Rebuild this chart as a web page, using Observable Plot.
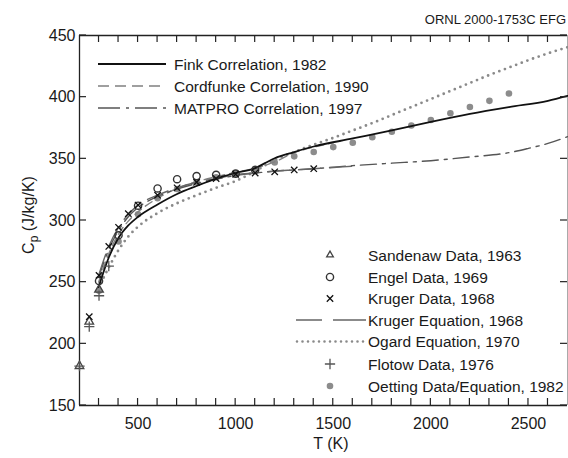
<!DOCTYPE html>
<html><head><meta charset="utf-8">
<script src="https://cdn.jsdelivr.net/npm/d3@7"></script>
<script src="https://cdn.jsdelivr.net/npm/@observablehq/plot@0.6"></script>
<style>
html,body{margin:0;padding:0;background:#fff;}
#chart{width:568px;height:458px;}
</style></head><body><div id="chart"></div>
<script>
// ---- data ----
const finkT  = [298, 350, 400, 450, 500, 600, 700, 800, 900, 1000, 1100, 1150, 1200, 1300, 1400, 1600, 1800, 2000, 2200, 2400, 2600, 2700];
const finkCp = [246, 270, 286, 296, 303, 313, 321.5, 328, 334, 338.5, 342.5, 346.5, 350.5, 355.5, 360, 366.5, 373, 380, 386.5, 392, 397, 401];

const cordT  = [298, 350, 400, 450, 500, 600, 700, 800, 900, 1000, 1100, 1200, 1300, 1400, 1500];
const cordCp = [250, 273, 289, 299.5, 307, 318, 326, 331.5, 335.5, 339, 342.5, 347.5, 355, 359.5, 363];

const matproT  = [298, 350, 400, 450, 500, 600, 700, 800, 900, 1000, 1100, 1200, 1300, 1400, 1600, 1800, 2000, 2200, 2400, 2500, 2600, 2700];
const matproCp = [254, 276.5, 292, 303, 310.5, 319.5, 325.5, 330, 333.5, 336.5, 338.5, 340, 341, 342, 344.5, 346.5, 348.5, 351.5, 355, 358.5, 362.5, 368];

const krugerEqT  = [298, 350, 400, 450, 500, 600, 700, 800, 900, 1000, 1100, 1200, 1300, 1400, 1500, 1600];
const krugerEqCp = [255.5, 279, 294.5, 305, 312.5, 320.5, 326.5, 331, 334, 337, 338.5, 340, 341, 342, 343, 344];

const ogardT  = [298, 350, 400, 450, 500, 600, 700, 800, 900, 1000, 1100, 1200, 1300, 1400, 1500, 1600, 1700, 1800, 1900, 2000, 2100, 2200, 2300, 2400, 2500, 2600, 2700];
const ogardCp = [245, 262, 276, 287, 295, 306, 314, 320.5, 326.5, 332, 340, 349, 355.5, 361.5, 367, 373, 379, 385.5, 392, 398.5, 405, 411.5, 418, 424, 430, 435.5, 440.5];

const sandenawT  = [200, 250, 300];
const sandenawCp = [182, 218, 244];

const engelT  = [300, 400, 500, 600, 700, 800, 900, 1000, 1100];
const engelCp = [251, 288, 312, 326, 333.5, 336, 337, 338, 341];

const krugerT  = [250, 300, 350, 400, 450, 500, 600, 700, 800, 900, 1000, 1100, 1200, 1300, 1400];
const krugerCp = [222, 255.5, 279, 294.5, 305.5, 312.5, 320.5, 326.5, 331, 334, 337.5, 338.5, 339.5, 341, 342];

const flotowT  = [200, 250, 300, 350];
const flotowCp = [182, 214, 239, 263];

const oettingT  = [300, 400, 500, 600, 700, 800, 900, 1000, 1100, 1200, 1300, 1400, 1500, 1600, 1700, 1800, 1900, 2000, 2100, 2200, 2300, 2400];
const oettingCp = [243, 283, 305, 318, 325.5, 331, 335, 338, 342, 347, 352, 355.5, 359.5, 363, 367.5, 372, 377, 381.5, 387, 392, 397, 403];

const xLabelTicks = [500, 1000, 1500, 2000, 2500];
const xMinorTicks = d3.range(300, 2700, 100);
const yTicks = [150, 200, 250, 300, 350, 400, 450];

const topLegend = ["Fink Correlation, 1982", "Cordfunke Correlation, 1990", "MATPRO Correlation, 1997"];
const bottomLegend = ["Sandenaw Data, 1963", "Engel Data, 1969", "Kruger Data, 1968", "Kruger Equation, 1968", "Ogard Equation, 1970", "Flotow Data, 1976", "Oetting Data/Equation, 1982"];
const noteText = "ORNL 2000-1753C EFG";
const xTitle = "T (K)";

// ---- helpers ----
const pts = (T, C) => T.map((t, i) => ({T: t, Cp: C[i]}));
const FONT = "'Liberation Sans', Arial, Helvetica, sans-serif";

const st = {
  fink:   {stroke: "#111", strokeWidth: 1.8},
  cord:   {stroke: "#808080", strokeWidth: 1.4, strokeDasharray: "8,5"},
  matpro: {stroke: "#555", strokeWidth: 1.4, strokeDasharray: "16,6,3,6"},
  krEq:   {stroke: "#666", strokeWidth: 1.4, strokeDasharray: "22,9"},
  ogard:  {stroke: "#8a8a8a", strokeWidth: 2.8, strokeDasharray: "0,6", strokeLinecap: "round"}
};

const plot = Plot.plot({
  width: 568, height: 458,
  marginLeft: 79, marginRight: 1, marginTop: 35, marginBottom: 53,
  x: {domain: [200, 2700]},
  y: {domain: [150, 450]},
  style: {fontFamily: FONT, background: "white", color: "#1a1a1a", overflow: "visible"},
  marks: [
    // frame
    Plot.ruleX([200], {stroke: "#222", strokeWidth: 1.3}),
    Plot.ruleX([2700], {stroke: "#aaa", strokeWidth: 1}),
    Plot.ruleY([150, 450], {stroke: "#222", strokeWidth: 1.3}),
    // axes: labels
    Plot.axisY(yTicks, {anchor: "left", tickSize: 0, tickPadding: 4, fontSize: 16, label: null, tickFormat: d => String(d)}),
    Plot.axisX(xLabelTicks, {anchor: "bottom", tickSize: 0, tickPadding: 12, fontSize: 16, label: null, tickFormat: d => String(d)}),
    // Oetting filled dots
    Plot.dot(pts(oettingT, oettingCp), {x: "T", y: "Cp", r: 3.3, fill: "#8c8c8c", stroke: "none"}),
    // curves
    Plot.line(pts(ogardT, ogardCp), {x: "T", y: "Cp", curve: "monotone-x", ...st.ogard}),
    Plot.line(pts(cordT, cordCp), {x: "T", y: "Cp", curve: "monotone-x", ...st.cord}),
    Plot.line(pts(matproT, matproCp), {x: "T", y: "Cp", curve: "monotone-x", ...st.matpro}),
    Plot.line(pts(krugerEqT, krugerEqCp), {x: "T", y: "Cp", curve: "monotone-x", ...st.krEq}),
    Plot.line(pts(finkT, finkCp), {x: "T", y: "Cp", curve: "monotone-x", ...st.fink}),
    // data markers
    Plot.dot(pts(sandenawT, sandenawCp), {x: "T", y: "Cp", symbol: "triangle", r: 3.2, stroke: "#444", strokeWidth: 1.3, fill: "none"}),
    Plot.dot(pts(flotowT, flotowCp), {x: "T", y: "Cp", symbol: "plus", r: 3.4, stroke: "#555", strokeWidth: 1.3}),
    Plot.dot(pts(engelT, engelCp), {x: "T", y: "Cp", symbol: "circle", r: 3.6, stroke: "#333", strokeWidth: 1.4, fill: "none"}),
    Plot.dot(pts(krugerT, krugerCp), {x: "T", y: "Cp", symbol: "times", r: 3, stroke: "#111", strokeWidth: 1.3})
  ]
});
document.getElementById("chart").appendChild(plot);

// ---- inward ticks via the plot's own scales ----
const xs = plot.scale("x"), ys = plot.scale("y");
const svg = d3.select(plot);
const tk = svg.append("g").attr("stroke", "#222").attr("stroke-width", 1.2);
const L = 7;
const xL = xs.apply(200), xR = xs.apply(2700), yB = ys.apply(150), yT = ys.apply(450);
xMinorTicks.forEach(v => {
  const px = xs.apply(v);
  tk.append("line").attr("x1", px).attr("x2", px).attr("y1", yB).attr("y2", yB - L);
  tk.append("line").attr("x1", px).attr("x2", px).attr("y1", yT).attr("y2", yT + L);
});
yTicks.forEach(v => {
  const py = ys.apply(v);
  tk.append("line").attr("x1", xL).attr("x2", xL + L).attr("y1", py).attr("y2", py);
  tk.append("line").attr("x1", xR).attr("x2", xR - L).attr("y1", py).attr("y2", py);
});

// ---- annotations & legends ----
const g = svg.append("g").attr("font-family", FONT).attr("fill", "#1a1a1a").attr("text-anchor", "start");

g.append("text").attr("x", 566).attr("y", 24).attr("text-anchor", "end")
  .attr("font-size", 13).text(noteText);

g.append("text").attr("x", 331).attr("y", 449).attr("text-anchor", "middle")
  .attr("font-size", 16).text(xTitle);

const yl = g.append("text").attr("transform", "translate(34,215) rotate(-90)")
  .attr("text-anchor", "middle").attr("font-size", 16);
yl.append("tspan").text("C");
yl.append("tspan").attr("font-size", 12).attr("dy", 4).text("p");
yl.append("tspan").attr("dy", -4).text(" (J/kg/K)");

// top-left legend
const topStyles = [st.fink, st.cord, st.matpro];
const topY = [64, 86, 108];
topLegend.forEach((lab, i) => {
  const s = topStyles[i];
  g.append("line").attr("x1", 98).attr("x2", 166).attr("y1", topY[i]).attr("y2", topY[i])
    .attr("stroke", s.stroke).attr("stroke-width", s.strokeWidth)
    .attr("stroke-dasharray", i === 1 ? "11,6" : i === 2 ? "22,6,3,6" : null);
  g.append("text").attr("x", 174).attr("y", topY[i]).attr("dy", "0.36em")
    .attr("font-size", 15.5).text(lab);
});

// bottom-right legend
const botY = [255, 277, 298.5, 320, 341.5, 364, 386];
const sym = (type, r) => d3.symbol(type, Math.PI * r * r)();
bottomLegend.forEach((lab, i) => {
  const y = botY[i];
  if (i === 0) g.append("path").attr("d", sym(d3.symbolTriangle2, 3.2)).attr("transform", `translate(330,${y})`).attr("fill", "none").attr("stroke", "#444").attr("stroke-width", 1.3);
  if (i === 1) g.append("path").attr("d", sym(d3.symbolCircle, 3.6)).attr("transform", `translate(330,${y})`).attr("fill", "none").attr("stroke", "#333").attr("stroke-width", 1.4);
  if (i === 2) g.append("path").attr("d", sym(d3.symbolTimes, 3)).attr("transform", `translate(330,${y})`).attr("fill", "none").attr("stroke", "#111").attr("stroke-width", 1.3);
  if (i === 3) g.append("line").attr("x1", 296).attr("x2", 366).attr("y1", y).attr("y2", y).attr("stroke", st.krEq.stroke).attr("stroke-width", 1.4).attr("stroke-dasharray", "26,11,40");
  if (i === 4) g.append("line").attr("x1", 297).attr("x2", 366).attr("y1", y).attr("y2", y).attr("stroke", st.ogard.stroke).attr("stroke-width", 2.6).attr("stroke-linecap", "round").attr("stroke-dasharray", "0,5.5");
  if (i === 5) g.append("path").attr("d", sym(d3.symbolPlus, 3.4)).attr("transform", `translate(330,${y})`).attr("fill", "none").attr("stroke", "#555").attr("stroke-width", 1.3);
  if (i === 6) g.append("circle").attr("cx", 330).attr("cy", y).attr("r", 3.3).attr("fill", "#8c8c8c");
  g.append("text").attr("x", 368).attr("y", y).attr("dy", "0.36em").attr("font-size", 15.5).text(lab);
});
</script></body></html>
